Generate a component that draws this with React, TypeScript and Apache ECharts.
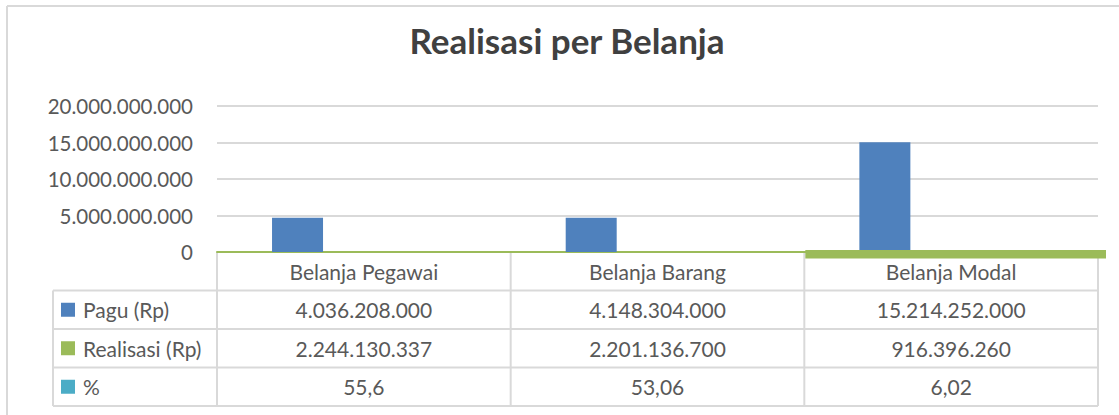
import React, { useEffect, useRef } from "react";
import * as echarts from "echarts";

const categories = ["Belanja Pegawai", "Belanja Barang", "Belanja Modal"];
// bar heights as drawn in the picture
const paguBarValues = [4.7e9, 4.7e9, 15.05e9];
// values shown in the data table
const paguTable = [4036208000, 4148304000, 15214252000];
const realisasiTable = [2244130337, 2201136700, 916396260];
const persenTable = [55.6, 53.06, 6.02];
const seriesNames = ["Pagu (Rp)", "Realisasi (Rp)", "%"];
const seriesColors = ["#4F81BD", "#9BBB59", "#4BACC6"];
const yMin = 0;
const yMax = 20e9;
const yInterval = 5e9;

const FONT = "Lato";
const TXT = "#595959";
const LINE = "#d9d9d9";
const TABLE_FS = 21;

const fmtDots = (n: number) => String(Math.round(n)).replace(/\B(?=(\d{3})+(?!\d))/g, ".");
const fmtComma = (n: number) => String(n).replace(".", ",");

export default function App() {
  const ref = useRef<HTMLDivElement>(null);
  useEffect(() => {
    if (!ref.current) return;
    const chart = echarts.init(ref.current, null, { renderer: "svg" });
    const option: any = {
      animation: false,
      backgroundColor: "#ffffff",
      title: {
        text: "Realisasi per Belanja",
        left: 562,
        textAlign: "center",
        top: 17,
        textStyle: { fontFamily: FONT, fontWeight: "bold", fontSize: 35, color: "#404040" },
      },
      grid: { left: 217, right: 21, top: 106, bottom: 163, containLabel: false },
      xAxis: {
        type: "category",
        data: categories,
        axisLine: { show: true, onZero: true, lineStyle: { color: seriesColors[1], width: 2 } },
        axisTick: { show: false },
        axisLabel: {
          interval: 0,
          margin: 19,
          verticalAlign: "middle",
          fontFamily: FONT,
          fontSize: TABLE_FS,
          color: TXT,
        },
      },
      yAxis: {
        type: "value",
        min: yMin,
        max: yMax,
        interval: yInterval,
        axisLine: { show: false },
        axisTick: { show: false },
        splitLine: { lineStyle: { color: LINE, width: 2 } },
        axisLabel: {
          margin: 24,
          fontFamily: FONT,
          fontSize: 20.5,
          color: TXT,
          formatter: (v: number) => fmtDots(v),
        },
      },
      series: [
        {
          name: seriesNames[0],
          type: "bar",
          data: paguBarValues,
          barWidth: 51,
          barGap: "30%",
          itemStyle: { color: seriesColors[0] },
        },
        {
          name: seriesNames[1],
          type: "bar",
          data: categories.map(() => null),
          barWidth: 51,
          barGap: "30%",
          itemStyle: { color: seriesColors[1] },
        },
        {
          name: seriesNames[2],
          type: "bar",
          data: categories.map(() => null),
          barWidth: 51,
          barGap: "30%",
          itemStyle: { color: seriesColors[2] },
        },
      ],
    };
    chart.setOption(option);

    const cx = categories.map((_, i) => chart.convertToPixel({ xAxisIndex: 0 }, i) as number);
    const bw = cx[1] - cx[0];
    const y0 = chart.convertToPixel({ yAxisIndex: 0 }, 0) as number;
    const gridL = cx[0] - bw / 2;
    const gridR = cx[cx.length - 1] + bw / 2;
    const tableL = 53;
    const rowH = 38.5;
    const rows = [paguTable.map(fmtDots), realisasiTable.map(fmtDots), persenTable.map(fmtComma)];
    const lineStyle = { stroke: LINE, lineWidth: 2 };
    const g: any[] = [];
    // chart border
    g.push({ type: "line", shape: { x1: 7, y1: 6, x2: 1119, y2: 6 }, style: lineStyle, silent: true });
    g.push({ type: "line", shape: { x1: 7, y1: 6, x2: 7, y2: 415 }, style: lineStyle, silent: true });
    // horizontal table lines
    for (let r = 1; r <= rows.length + 1; r++) {
      const y = y0 + rowH * r;
      g.push({ type: "line", shape: { x1: tableL, y1: y, x2: gridR, y2: y }, style: lineStyle, silent: true });
    }
    const yBottom = y0 + rowH * (rows.length + 1);
    // vertical table lines
    g.push({ type: "line", shape: { x1: tableL, y1: y0 + rowH, x2: tableL, y2: yBottom }, style: lineStyle, silent: true });
    for (let i = 0; i <= categories.length; i++) {
      const x = gridL + bw * i;
      g.push({ type: "line", shape: { x1: x, y1: y0, x2: x, y2: yBottom }, style: lineStyle, silent: true });
    }
    // row contents
    rows.forEach((vals, r) => {
      const yc = y0 + rowH * (r + 1) + rowH / 2;
      g.push({ type: "rect", shape: { x: 61, y: yc - 7, width: 14, height: 14 }, style: { fill: seriesColors[r] }, silent: true });
      g.push({
        type: "text",
        x: 83,
        y: yc,
        style: { text: seriesNames[r], fontFamily: FONT, fontSize: TABLE_FS, fill: TXT, align: "left", verticalAlign: "middle" },
        silent: true,
      });
      vals.forEach((v, i) => {
        g.push({
          type: "text",
          x: cx[i],
          y: yc,
          style: { text: v, fontFamily: FONT, fontSize: TABLE_FS, fill: TXT, align: "center", verticalAlign: "middle" },
          silent: true,
        });
      });
    });
    // Realisasi band along the axis under Belanja Modal
    const last = categories.length - 1;
    g.push({
      type: "rect",
      shape: { x: cx[last] - bw / 2 + 1, y: y0 - 2, width: bw + 7, height: 8.5 },
      style: { fill: seriesColors[1] },
      z: 100,
      silent: true,
    });
    chart.setOption({ graphic: g });
    return () => chart.dispose();
  }, []);
  return (
    <div
      ref={ref}
      style={{ position: "fixed", left: 0, top: 0, width: 1119, height: 415, background: "#fff" }}
    />
  );
}
